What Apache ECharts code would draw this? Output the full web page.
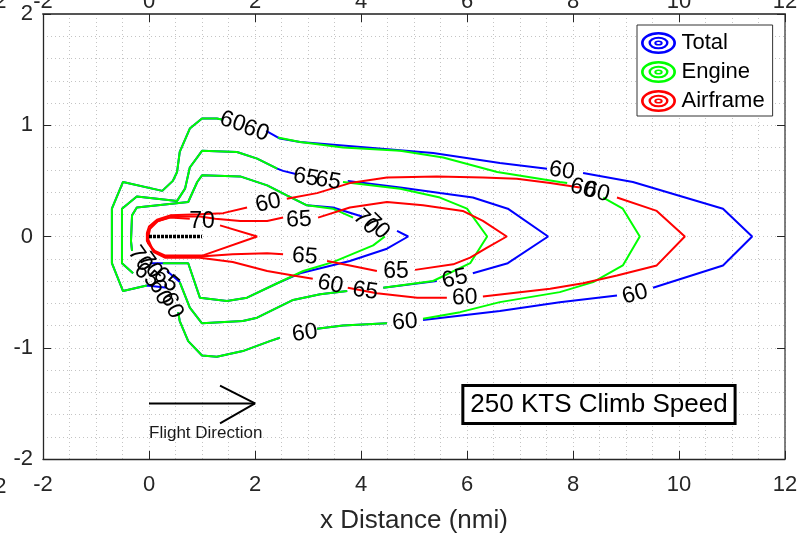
<!DOCTYPE html>
<html><head><meta charset="utf-8">
<script src="https://cdn.jsdelivr.net/npm/echarts@6/dist/echarts.min.js"></script>
<style>html,body{margin:0;padding:0;background:#fff}#c{width:803px;height:535px}</style>
</head><body><div id="c"></div>
<script>
// ---------- data (x in nmi, y in nmi) ----------
const seriesNames = ['Total', 'Engine', 'Airframe'];
const xTicks = [-2, 0, 2, 4, 6, 8, 10, 12];
const yTicks = [-2, -1, 0, 1, 2];

// Each contour is a list of segments (gaps where the level labels sit)
const total60 = [
  [[2.21,0.95],[2.47,0.88],[2.85,0.85],[4.11,0.80],[5.36,0.75],[6.62,0.66],[7.51,0.61]],
  [[8.19,0.57],[9.13,0.49],[10.83,0.25],[11.38,0],[10.83,-0.26],[9.51,-0.46]],
  [[8.83,-0.53],[7.75,-0.59],[6.62,-0.67],[5.17,-0.75]],
  [[4.49,-0.78],[3.66,-0.80],[3.17,-0.83]],
  [[2.47,-0.91],[2.28,-0.94],[1.77,-1.03],[1.28,-1.08],[1.00,-1.07],[0.74,-0.94],[0.58,-0.76],[0.55,-0.68]],
  [[0.34,-0.46],[-0.04,-0.44],[-0.49,-0.49],[-0.70,-0.24],[-0.70,0.25],[-0.49,0.49],[0.25,0.41],[0.45,0.50],[0.53,0.58],[0.58,0.76],[0.77,0.97],[1.00,1.06],[1.28,1.06],[1.40,1.05]]
];
const total65 = [
  [[3.75,0.50],[4.74,0.44],[5.49,0.39],[6.11,0.35],[6.77,0.25],[7.53,0],[6.77,-0.24],[6.11,-0.33]],
  [[5.43,-0.40],[4.42,-0.46]],
  [[3.74,-0.49],[3.23,-0.52],[2.72,-0.57],[2.04,-0.73],[1.77,-0.76],[1.00,-0.78],[0.77,-0.64],[0.58,-0.41],[0.34,-0.31]],
  [[-0.30,-0.33],[-0.51,-0.24],[-0.51,0.25],[-0.23,0.36],[0.53,0.32],[0.68,0.43],[0.77,0.62],[1.00,0.77],[1.66,0.76],[2.04,0.70],[2.42,0.61],[2.53,0.59],[2.79,0.56]]
];
const total70 = [
  [[-0.32,-0.13],[-0.34,-0.04],[-0.32,0.19],[-0.23,0.26],[0.74,0.31],[0.91,0.49],[1.00,0.55],[1.72,0.54],[2.23,0.46],[2.60,0.37],[2.98,0.28],[3.47,0.26],[4.02,0.18]],
  [[4.68,0.05],[4.89,0],[4.49,-0.11],[3.79,-0.22],[2.85,-0.33],[2.42,-0.42],[1.85,-0.55],[1.47,-0.58],[0.96,-0.55],[0.74,-0.24],[0.26,-0.24],[0.02,-0.24]]
];
const engine60 = [
  [[2.43,0.89],[2.85,0.85],[3.66,0.80],[4.74,0.77],[5.55,0.71],[6.57,0.58],[7.75,0.49],[7.89,0.48]],
  [[8.57,0.35],[8.94,0.25],[9.26,0],[8.94,-0.26],[8.38,-0.41],[7.75,-0.50],[6.62,-0.59],[5.87,-0.68],[5.17,-0.74]],
  [[4.49,-0.78],[3.66,-0.80],[3.17,-0.83]],
  [[2.47,-0.91],[2.28,-0.94],[1.77,-1.03],[1.28,-1.08],[1.00,-1.07],[0.74,-0.94],[0.58,-0.76],[0.55,-0.68]],
  [[-0.04,-0.44],[-0.49,-0.49],[-0.70,-0.24],[-0.70,0.25],[-0.49,0.49],[0.25,0.41],[0.45,0.50],[0.53,0.58],[0.58,0.76],[0.77,0.97],[1.00,1.06],[1.28,1.06],[1.40,1.05]]
];
const engine65 = [
  [[3.66,0.49],[4.74,0.43],[5.49,0.35],[6.00,0.25],[6.38,0],[6.06,-0.24],[5.36,-0.40],[4.42,-0.46]],
  [[3.74,-0.49],[3.23,-0.52],[2.72,-0.57],[2.04,-0.73],[1.77,-0.76],[1.00,-0.78],[0.77,-0.64],[0.58,-0.41]],
  [[-0.30,-0.33],[-0.51,-0.24],[-0.51,0.25],[-0.23,0.36],[0.53,0.32],[0.68,0.43],[0.77,0.62],[1.00,0.77],[1.66,0.76],[2.04,0.70],[2.42,0.61]]
];
const engine70 = [
  [[-0.32,-0.13],[-0.34,-0.04],[-0.32,0.19],[-0.23,0.26],[0.74,0.31],[0.91,0.49],[1.00,0.55],[1.72,0.54],[2.23,0.46],[2.60,0.37],[2.98,0.28],[3.47,0.25],[3.85,0.17]],
  [[4.45,0],[4.23,-0.08],[3.47,-0.23],[2.91,-0.31],[2.42,-0.42],[1.85,-0.55],[1.47,-0.58],[0.96,-0.55],[0.74,-0.24],[0.26,-0.24]]
];
const airframe60 = [
  [[2.60,0.34],[3.17,0.39],[3.79,0.48],[4.49,0.53],[5.43,0.54],[6.30,0.53],[6.94,0.52],[7.57,0.48],[8.13,0.44]],
  [[8.83,0.35],[9.58,0.23],[10.11,0],[9.58,-0.26],[8.83,-0.35],[8.19,-0.42],[7.57,-0.47],[6.30,-0.54]],
  [[5.62,-0.55],[5.06,-0.55],[4.30,-0.51],[3.75,-0.46]],
  [[3.09,-0.38],[2.72,-0.35],[2.23,-0.31],[1.58,-0.23],[0.96,-0.19],[0.30,-0.19],[0.09,-0.14],[-0.04,-0.04],[-0.04,0.03],[0.00,0.09],[0.15,0.15],[0.40,0.19],[0.96,0.20],[1.40,0.21],[1.85,0.26]]
];
const airframe65 = [
  [[3.19,0.17],[3.79,0.26],[4.49,0.31],[5.17,0.28],[5.92,0.23],[6.30,0.14],[6.75,0],[6.38,-0.10],[6.06,-0.19],[5.74,-0.25],[5.02,-0.30]],
  [[4.30,-0.31],[3.79,-0.26],[3.36,-0.22]],
  [[2.53,-0.16],[2.23,-0.15],[1.58,-0.16],[0.96,-0.18],[0.30,-0.18],[0.08,-0.13],[-0.02,-0.02],[0.02,0.07],[0.17,0.14],[0.43,0.18],[0.96,0.18],[1.25,0.16],[1.72,0.14],[2.23,0.14],[2.53,0.17]]
];
const airframe70 = [
  [[0.77,0.16],[0.40,0.17],[0.11,0.13],[-0.02,0.05],[-0.02,-0.06],[0.11,-0.13],[0.30,-0.17],[1.02,-0.17],[2.04,0],[1.34,0.10]]
];

// contour level labels: [x, y, text]
const contourLabels = [
  [1.58,1.03,'60'],[2.02,0.95,'60'],[2.96,0.53,'65'],[3.38,0.50,'65'],
  [2.25,0.30,'60'],[2.83,0.15,'65'],[1.00,0.13,'70'],[4.09,0.13,'70'],[4.30,0.09,'70'],
  [2.94,-0.18,'65'],[4.66,-0.32,'65'],[3.42,-0.43,'60'],[4.08,-0.49,'65'],[5.77,-0.38,'65'],
  [5.96,-0.55,'60'],[2.94,-0.87,'60'],[4.83,-0.77,'60'],[7.79,0.59,'60'],[8.19,0.43,'60'],
  [8.45,0.40,'60'],[9.17,-0.52,'60'],
  [-0.17,-0.20,'70'],[0.02,-0.26,'70'],[-0.04,-0.35,'65'],[0.32,-0.39,'65'],[0.21,-0.50,'60'],[0.43,-0.62,'60']
];
const labelAngles = [-18,-20,-10,-10, 12,3,0,-45,-45, -5,0,-12,-8,12, 2,8,5,-8,-15, -15,15, -55,-55,-40,-40,-65,-65];

const runwayLine = [[0,0],[1,0]];
const arrowShaft = [[0,-1.5],[2,-1.5]];
const arrowHead = [[1.34,-1.34],[2,-1.5],[1.34,-1.68]];
const flightText = [[0,-1.77,'Flight Direction']];
const boxText = [[8.49,-1.51,'250 KTS Climb Speed']];

// ---------- styling ----------
const colors = {Total:'#0000ff', Engine:'#00ff00', Airframe:'#ff0000'};
const contourSets = {
  Total: [total60, total65, total70],
  Engine: [engine60, engine65, engine70],
  Airframe: [airframe60, airframe65, airframe70]
};

function ell(cx, cy, rx, ry, sweep) {
  return `M${cx-rx} ${cy} A${rx} ${ry} 0 1 ${sweep} ${cx+rx} ${cy} A${rx} ${ry} 0 1 ${sweep} ${cx-rx} ${cy} Z `;
}
const ringIcon = 'path://' +
  ell(18,11,17.5,11,0) + ell(18,11,14.8,8.6,1) +
  ell(18,11,10,6.3,0) + ell(18,11,7.6,4.2,1) +
  ell(18,11,4.2,2.6,0) + ell(18,11,2.2,1,1);

const series = [];
seriesNames.forEach(name => {
  contourSets[name].forEach(level => {
    level.forEach(seg => {
      series.push({
        name: name, type: 'line', data: seg, symbol: 'none', showSymbol: false,
        lineStyle: {color: colors[name], width: 2}, itemStyle: {color: colors[name]},
        silent: true, animation: false, z: 2
      });
    });
  });
});
series.push({type:'line', data: runwayLine, symbol:'none', silent:true, animation:false, z:3,
  lineStyle:{color:'#000', width:3.5, type:[3,1]}});
series.push({type:'line', data: arrowShaft, symbol:'none', silent:true, animation:false,
  lineStyle:{color:'#000', width:2}});
series.push({type:'line', data: arrowHead, symbol:'none', silent:true, animation:false,
  lineStyle:{color:'#000', width:2}});
const plainLabel = {textBorderWidth:0, textBorderColor:'transparent', textShadowBlur:0, opacity:1};
const hiddenItem = {color:'rgba(0,0,0,0)', opacity:1};
series.push({type:'scatter', symbolSize:1, itemStyle:hiddenItem, silent:true, animation:false, z:5,
  data: contourLabels.map((l,i) => ({value:[l[0],l[1]], label:{formatter:l[2], rotate:labelAngles[i]}})),
  label:Object.assign({show:true, position:'inside', fontSize:23, color:'#000'}, plainLabel)});
series.push({type:'scatter', symbolSize:1, itemStyle:hiddenItem, silent:true, animation:false, z:5,
  data: flightText.map(t => ({value:[t[0],t[1]], label:{formatter:t[2]}})),
  label:Object.assign({show:true, position:'inside', align:'left', fontSize:17, color:'#1a1a1a'}, plainLabel)});
series.push({type:'scatter', symbolSize:1, itemStyle:hiddenItem, silent:true, animation:false, z:6,
  data: boxText.map(t => ({value:[t[0],t[1]], label:{formatter:t[2]}})),
  label:Object.assign({show:true, position:'inside', fontSize:26, color:'#000', backgroundColor:'#fff',
    borderColor:'#000', borderWidth:3, padding:[5,6,4,6]}, plainLabel)});

const gridDots = {type:[1,3], color:'#c4c4c4', width:1};
const axisCol = '#262626';
const chart = echarts.init(document.getElementById('c'), null, {renderer:'canvas'});
chart.setOption({
  animation: false,
  textStyle: {fontFamily: 'Liberation Sans, Arial, Helvetica, sans-serif'},
  grid: {left:43, right:18, top:14, bottom:76, containLabel:false, outerBoundsMode:'none'},
  legend: {
    data: seriesNames, orient:'vertical', left:637, top:25, icon: ringIcon,
    itemWidth:36, itemHeight:22, itemGap:7, padding:[7,8,4,4],
    backgroundColor:'#fff', borderColor:'#333', borderWidth:1, borderRadius:0,
    selectedMode:false, itemStyle:{borderWidth:0},
    textStyle:{fontSize:22, color:'#000'}
  },
  xAxis: [{
    type:'value', min:xTicks[0], max:xTicks[xTicks.length-1], interval:2, position:'bottom',
    axisLine:{show:true, onZero:false, lineStyle:{color:axisCol, width:1.3}},
    axisTick:{show:true, inside:true, length:8, lineStyle:{color:axisCol}},
    axisLabel:{fontSize:22, color:axisCol, margin:15},
    splitLine:{show:true, lineStyle:gridDots},
    minorTick:{show:true, splitNumber:4, length:0},
    minorSplitLine:{show:true, lineStyle:gridDots},
    name:'x Distance (nmi)', nameLocation:'middle', nameGap:49,
    nameTextStyle:{fontSize:26, color:axisCol}
  }, {
    type:'value', min:xTicks[0], max:xTicks[xTicks.length-1], interval:2, position:'top',
    axisLine:{show:true, onZero:false, lineStyle:{color:'#555', width:2}},
    axisTick:{show:true, inside:true, length:8, lineStyle:{color:axisCol}},
    axisLabel:{fontSize:22, color:axisCol, margin:1},
    splitLine:{show:false}
  }],
  yAxis: [{
    type:'value', min:yTicks[0], max:yTicks[yTicks.length-1], interval:1,
    axisLine:{show:true, onZero:false, lineStyle:{color:axisCol, width:1.3}},
    axisTick:{show:true, inside:true, length:8, lineStyle:{color:axisCol}},
    axisLabel:{fontSize:22, color:axisCol, margin:10},
    splitLine:{show:true, lineStyle:gridDots},
    minorTick:{show:true, splitNumber:5, length:0},
    minorSplitLine:{show:true, lineStyle:gridDots}
  }, {
    type:'value', min:yTicks[0], max:yTicks[yTicks.length-1], interval:1, position:'right',
    axisLine:{show:true, onZero:false, lineStyle:{color:'#555', width:1.5}},
    axisTick:{show:true, inside:true, length:8, lineStyle:{color:axisCol}},
    axisLabel:{show:false}, splitLine:{show:false}
  }],
  graphic: [
    {type:'text', x:-18, y:-9, style:{text:'12', fontSize:22, fill:axisCol, fontFamily:'Liberation Sans, Arial, sans-serif'}},
    {type:'text', x:-18, y:476, style:{text:'12', fontSize:22, fill:axisCol, fontFamily:'Liberation Sans, Arial, sans-serif'}}
  ],
  series: series
});
</script></body></html>
